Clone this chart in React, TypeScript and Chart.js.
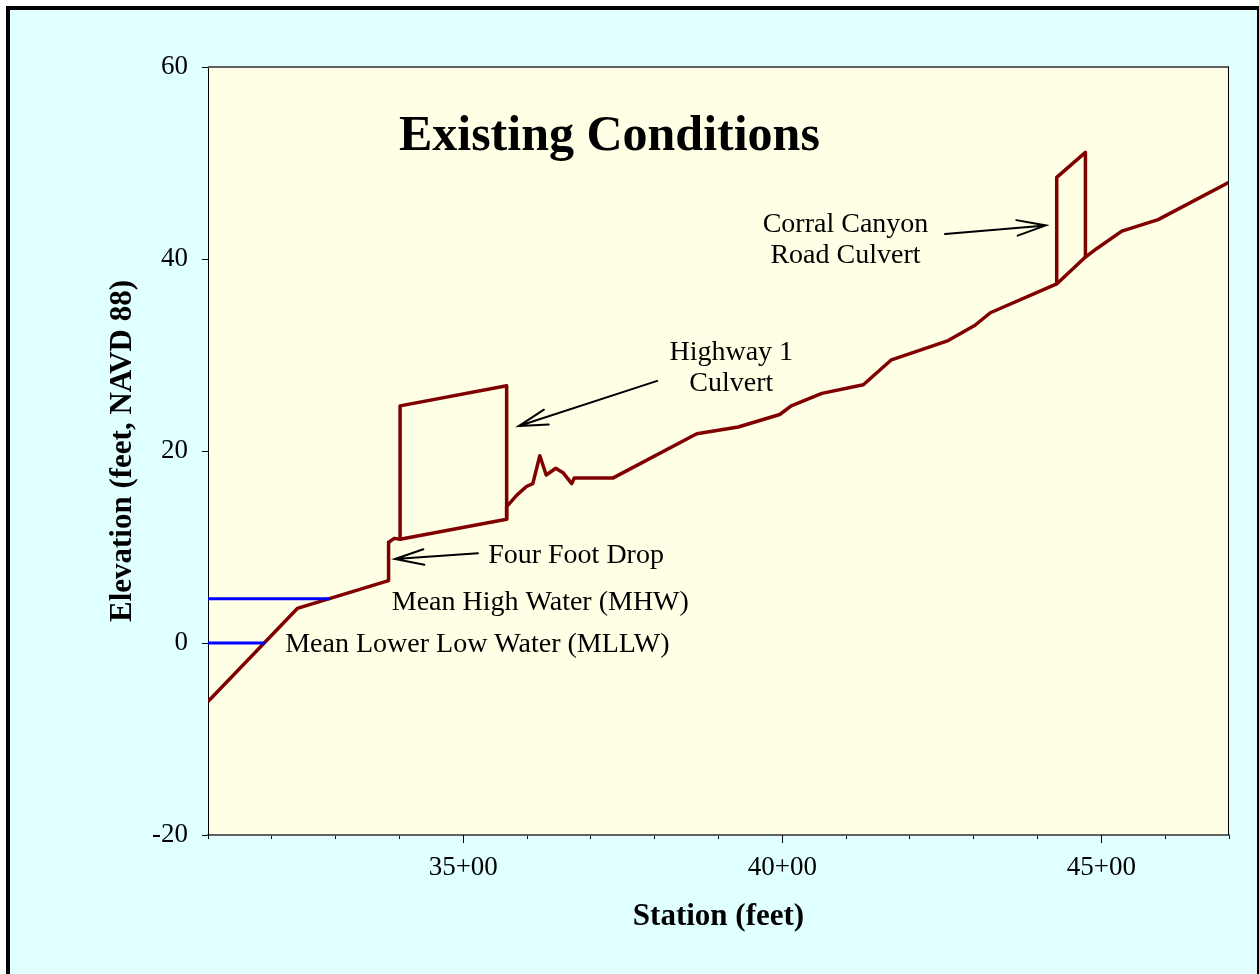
import React, { useEffect, useRef } from "react";
import { Chart, registerables } from "chart.js";

Chart.register(...registerables);

// ---- Data (station in feet, elevation in feet NAVD 88) ----
const groundStation = [
  3100, 3240, 3383, 3383, 3392, 3401, 3568, 3568, 3584, 3599, 3609, 3620, 3630,
  3645, 3657, 3670, 3674, 3735, 3866, 3931, 3996, 4014, 4062, 4127, 4171, 4260,
  4302, 4326, 4430, 4475, 4493, 4532, 4589, 4700,
];
const groundElevation = [
  -6.1, 3.6, 6.5, 10.5, 10.9, 10.8, 12.9, 14.2, 15.4, 16.3, 16.6, 19.5, 17.5,
  18.2, 17.7, 16.6, 17.2, 17.2, 21.8, 22.5, 23.8, 24.7, 26.0, 26.9, 29.5, 31.5,
  33.1, 34.4, 37.4, 40.2, 41.1, 42.9, 44.1, 48.0,
];
const hwy1CulvertStation = [3401, 3401, 3568, 3568];
const hwy1CulvertElevation = [10.8, 24.7, 26.8, 12.9];
const corralCulvertStation = [4430, 4430, 4475, 4475];
const corralCulvertElevation = [37.4, 48.5, 51.1, 40.2];
const mhwStation = [3100, 3291];
const mhwElevation = [4.6, 4.6];
const mllwStation = [3100, 3189];
const mllwElevation = [0, 0];

const xMin = 3100;
const xMax = 4700;
const xStep = 100;
const xMajorTicks = [3500, 4000, 4500];
const yMin = -20;
const yMax = 60;
const yStep = 20;

const titleText = "Existing Conditions";
const xAxisTitle = "Station (feet)";
const yAxisTitle = "Elevation (feet, NAVD 88)";

// annotation texts anchored in data coordinates
const labelTexts = [
  "Highway 1",
  "Culvert",
  "Four Foot Drop",
  "Mean High Water (MHW)",
  "Mean Lower Low Water (MLLW)",
  "Corral Canyon",
  "Road Culvert",
];
const labelStation = [3920, 3920, 3539, 3388, 3221, 4099, 4099];
const labelElevation = [29.5, 26.2, 8.36, 3.44, -0.9, 42.8, 39.6];
const labelAlign = ["center", "center", "left", "left", "left", "center", "center"];

const arrowFromStation = [3804, 3523, 4255];
const arrowFromElevation = [27.3, 9.34, 42.6];
const arrowToStation = [3587, 3393, 4413];
const arrowToElevation = [22.6, 8.75, 43.5];

const titleStation = 3729;
const titleElevation = 51.35;

const SERIF = '"Liberation Serif", "Times New Roman", Times, serif';

const toPts = (xs: number[], ys: number[]) => xs.map((x, i) => ({ x, y: ys[i] }));

const framePlugin = {
  id: "frame",
  beforeDraw(chart: any) {
    const { ctx, width, height, chartArea } = chart;
    ctx.save();
    ctx.fillStyle = "#ffffff";
    ctx.fillRect(0, 0, width, height);
    ctx.fillStyle = "#E0FFFF";
    ctx.fillRect(6, 6, width - 6, height - 6);
    ctx.fillStyle = "#000000";
    ctx.fillRect(6, 6, 4, height - 6);
    ctx.fillRect(6, 6, width - 6, 4);
    ctx.fillRect(width - 2, 6, 2, height - 6);
    ctx.fillStyle = "#FFFFE6";
    ctx.fillRect(
      chartArea.left,
      chartArea.top,
      chartArea.right - chartArea.left,
      chartArea.bottom - chartArea.top
    );
    ctx.restore();
  },
  afterDraw(chart: any) {
    const { ctx, chartArea, scales } = chart;
    ctx.save();
    // top & right border of plot area
    ctx.strokeStyle = "#606060";
    ctx.lineWidth = 2;
    ctx.beginPath();
    ctx.moveTo(chartArea.left, chartArea.top);
    ctx.lineTo(chartArea.right, chartArea.top);
    ctx.stroke();
    ctx.strokeStyle = "#000000";
    ctx.lineWidth = 1;
    ctx.beginPath();
    ctx.moveTo(Math.round(chartArea.right) - 0.5, chartArea.top);
    ctx.lineTo(Math.round(chartArea.right) - 0.5, chartArea.bottom);
    ctx.stroke();
    // longer major ticks
    ctx.beginPath();
    xMajorTicks.forEach((v) => {
      const px = Math.round(scales.x.getPixelForValue(v)) + 0.5;
      ctx.moveTo(px, chartArea.bottom);
      ctx.lineTo(px, chartArea.bottom + 8);
    });
    ctx.stroke();
    ctx.restore();
  },
};

const annotationPlugin = {
  id: "annotations",
  afterDatasetsDraw(chart: any) {
    const { ctx, scales } = chart;
    const px = (v: number) => scales.x.getPixelForValue(v);
    const py = (v: number) => scales.y.getPixelForValue(v);
    ctx.save();
    ctx.fillStyle = "#000000";
    ctx.textBaseline = "alphabetic";
    // title
    ctx.font = `bold 50px ${SERIF}`;
    ctx.textAlign = "center";
    ctx.fillText(titleText, px(titleStation), py(titleElevation));
    // labels
    ctx.font = `28px ${SERIF}`;
    labelTexts.forEach((t, i) => {
      ctx.textAlign = labelAlign[i] as CanvasTextAlign;
      ctx.fillText(t, px(labelStation[i]), py(labelElevation[i]));
    });
    // arrows
    ctx.strokeStyle = "#000000";
    ctx.lineWidth = 2;
    ctx.lineCap = "round";
    arrowFromStation.forEach((_, i) => {
      const x1 = px(arrowFromStation[i]);
      const y1 = py(arrowFromElevation[i]);
      const x2 = px(arrowToStation[i]);
      const y2 = py(arrowToElevation[i]);
      const ang = Math.atan2(y1 - y2, x1 - x2);
      const len = 30;
      const half = (15 * Math.PI) / 180;
      ctx.beginPath();
      ctx.moveTo(x1, y1);
      ctx.lineTo(x2, y2);
      ctx.moveTo(x2 + len * Math.cos(ang + half), y2 + len * Math.sin(ang + half));
      ctx.lineTo(x2, y2);
      ctx.lineTo(x2 + len * Math.cos(ang - half), y2 + len * Math.sin(ang - half));
      ctx.stroke();
    });
    ctx.restore();
  },
};

export default function App() {
  const canvasRef = useRef<HTMLCanvasElement | null>(null);

  useEffect(() => {
    document.body.style.margin = "0";
    const canvas = canvasRef.current;
    if (!canvas) return;
    const lineStyle = (color: string, w: number) => ({
      borderColor: color,
      backgroundColor: color,
      borderWidth: w,
      pointRadius: 0,
      showLine: true,
      fill: false,
      tension: 0,
      borderJoinStyle: "round" as const,
      borderCapStyle: "butt" as const,
    });
    const chart = new Chart(canvas, {
      type: "scatter",
      data: {
        datasets: [
          { label: "MHW", data: toPts(mhwStation, mhwElevation), ...lineStyle("#0000FF", 3) },
          { label: "MLLW", data: toPts(mllwStation, mllwElevation), ...lineStyle("#0000FF", 3) },
          { label: "Ground", data: toPts(groundStation, groundElevation), ...lineStyle("#800000", 3.5) },
          { label: "Highway 1 Culvert", data: toPts(hwy1CulvertStation, hwy1CulvertElevation), ...lineStyle("#800000", 3.5) },
          { label: "Corral Canyon Road Culvert", data: toPts(corralCulvertStation, corralCulvertElevation), ...lineStyle("#800000", 3.5) },
        ],
      },
      options: {
        responsive: false,
        animation: false,
        events: [],
        layout: { padding: { left: 0, right: 30, top: 67, bottom: 0 } },
        plugins: {
          legend: { display: false },
          tooltip: { enabled: false },
          title: { display: false },
        },
        scales: {
          x: {
            type: "linear",
            min: xMin,
            max: xMax,
            afterFit: (s: any) => {
              s.height = 139;
            },
            afterBuildTicks: (s: any) => {
              const t = [];
              for (let v = xMin; v <= xMax; v += xStep) t.push({ value: v });
              s.ticks = t;
            },
            ticks: {
              autoSkip: false,
              maxRotation: 0,
              minRotation: 0,
              padding: 13,
              color: "#000000",
              font: { family: SERIF, size: 27 },
              callback: (v: any) => (xMajorTicks.includes(Number(v)) ? `${Number(v) / 100}+00` : ""),
            },
            grid: {
              drawOnChartArea: false,
              drawTicks: true,
              tickLength: 4,
              tickColor: "#000000",
              tickWidth: 1,
            },
            border: { display: true, color: "#606060", width: 2 },
            title: {
              display: true,
              text: xAxisTitle,
              color: "#000000",
              font: { family: SERIF, size: 31, weight: "bold" },
              padding: { top: 0, bottom: 38 },
            },
          },
          y: {
            type: "linear",
            min: yMin,
            max: yMax,
            afterFit: (s: any) => {
              s.width = 208;
            },
            ticks: {
              stepSize: yStep,
              padding: 14,
              color: "#000000",
              font: { family: SERIF, size: 27 },
            },
            grid: {
              drawOnChartArea: false,
              drawTicks: true,
              tickLength: 6,
              tickColor: "#000000",
              tickWidth: 1,
            },
            border: { display: true, color: "#000000", width: 1 },
            title: {
              display: true,
              text: yAxisTitle,
              color: "#000000",
              font: { family: SERIF, size: 31, weight: "bold" },
              padding: { top: 104, bottom: 0 },
            },
          },
        },
      },
      plugins: [framePlugin, annotationPlugin],
    });
    return () => chart.destroy();
  }, []);

  return (
    <div style={{ width: 1259, height: 974, margin: 0, padding: 0 }}>
      <canvas ref={canvasRef} width={1259} height={974} style={{ display: "block" }} />
    </div>
  );
}
